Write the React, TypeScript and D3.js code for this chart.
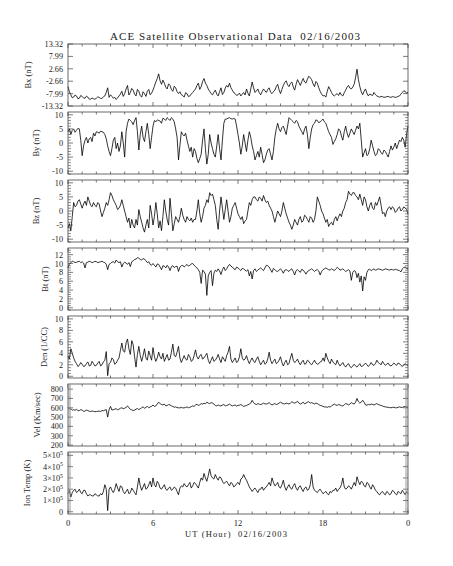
import React from "react";
import * as d3 from "d3";

// ACE multi-panel plot, 02/16/2003, samples every 0.1 h
const TITLE = "ACE Satellite Observational Data  02/16/2003";
const X_LABEL = "UT (Hour)  02/16/2003";
const X_TICKS = [0, 6, 12, 18, 24];
const X_TICK_LABELS = ["0", "6", "12", "18", "0"];
const STEP_H = 0.1;

const bxValues = [
  -5, -7.2, -8.5, -9.8, -9.5, -8.6, -9, -10.2, -10, -8.8, -9.2, -9.9, -10, -9.1, -9.5, -10.4, -10.3, -9.9, -10.2, -10.4,
  -10, -9.4, -9.6, -10.1, -10, -9.4, -9, -7.5, -5.5, -9.6, -8.5, -9.2, -10, -9.6, -10.5, -9.8, -9, -8.2, -7, -9.2,
  -8, -6, -4.5, -8.6, -7.5, -5.8, -6.5, -8.2, -9, -6.2, -7, -8.8, -9.5, -7.2, -8, -9.2, -7, -6.2, -8.5, -7.8,
  -6.5, -4.8, -3, -1.5, 0.5, -2.5, -4, -2.2, -3.5, -5.2, -6, -3.8, -4.5, -6.2, -7, -4.8, -5.5, -7.2, -8, -7.2,
  -8.5, -8.8, -9.5, -7.6, -8, -9.3, -9, -8.2, -7.5, -6.8, -6, -4.5, -3.5, -6.2, -5, -2.8, -1.5, -3.5, -4.5, -6,
  -7, -8, -8.5, -7.4, -6.5, -8.2, -9, -7.2, -5.5, -8.4, -7.5, -5.6, -4.5, -5.2, -3.5, -5.5, -6.5, -7.6, -8, -8.8,
  -8.5, -7.8, -9, -8.2, -7.5, -8.6, -6, -7.8, -9, -6, -3, -5.5, -7.5, -6.8, -6, -7.6, -8.5, -7.2, -6, -6.8,
  -7.5, -6.2, -5.5, -7.4, -8, -7.2, -6.5, -5, -4, -6.4, -8, -6.2, -4.5, -3.2, -2.5, -4.2, -5, -3.6, -3, -5.2,
  -6.5, -4, -2, -3.2, -4.5, -2.8, -1.5, -3, -3.5, -1.8, -0.5, -1.2, -2, -3.8, -5, -2.8, -3.5, -5.5, -7, -8.2,
  -9, -8.8, -9.5, -7, -5, -6.2, -7.5, -8.6, -9, -8.4, -8, -8.8, -7.5, -8.6, -9, -7.6, -6.5, -5.2, -4.5, -5.6,
  -6, -5.2, -4, -1, 2.5, -2, -5, -7.2, -8.5, -7, -6, -7.8, -9, -8.2, -8.5, -8.8, -7.5, -8.4, -9, -9.3,
  -9.5, -9.2, -9.3, -9.6, -9.5, -9.3, -9.2, -9.5, -9.6, -9.3, -9.4, -9.6, -9.5, -9.2, -9, -8.2, -7.5, -6.8, -7, -7.8,
  -7.5,
];

const byValues = [
  4, 5, 3, 4.5, 5, 3.8, 4.5, 5.2, 5, 1, -4.5, -1, 1, 2, 0, 1.5, 2, 0.5, 3.5, 2.5,
  4, 3.8, 3.5, 4.2, 4, 3.8, 3, 1.5, -1, -3, -4.5, -2, 1, 2, -2, 0, -3, -1, 4, 0,
  -5, 4, 7, 8.5, 8, 7.5, 6.5, 8, 9, 4, -2.5, 3, 6, 2, 0.5, 4, 7, 3, -2, 2,
  6, 8, 7.5, 8.2, 8, 7.8, 7, 8.8, 8.5, 8, 9, 8.5, 8, 9, 8.5, 7.5, 5, 2, -6, -1,
  4, 3, 2.5, 3.5, 1, -1, -3, -1.5, -5, -2, -3, -5.5, -7, -5.5, -4, 1, 5, -2, -7.5, -4,
  3, 0, -2, -4, -5, -1, 3, -2, -6, 1, 7, 8.5, 8.5, 8.8, 9, 8.6, 8.5, 8.7, 8.5, 6,
  3, 0, -4, -1, 3, 0, -3, 1, 4, 2, -1, -3, -6, -4.5, -3, -5, -1.5, -4, -7, -6,
  -4, -2.5, -2, -4, -6, -3, 2, 5, 7, 5, 4, 5.5, 6, 4.5, 3, 6, 9, 8.5, 8, 7.5,
  7, 8, 7.5, 6, 5, 4, 3, 5, 6, 3, -2, 2, 5, 6.5, 7, 8.2, 8, 7.2, 7.5, 8,
  8.5, 7.5, 7, 5.5, 4, 3, 2, -0.5, 0.5, 1.5, 3, 5, 4.5, 2.5, 1, 4, 6, 3.5, 2, 3.5,
  5, 4, 3, 4.5, 6, 5, 7, 1, -5, -3.5, -2, -4.5, -4, -2, 1, -1, -3, -4.5, -4, -2,
  -2.5, -3.5, -4, -2.5, -3, -4, -5, -3, -1, -2.5, -1.5, 0, -2, -0.5, 1, 0.5, 2, 1, -1.5, 3,
  6,
];

const bzValues = [
  -6, -4.5, -7, -2, 3, 1.5, 2, 3.5, 4, 2.5, 1, 2.5, 3.5, 2, 5, 3.5, 2, 1.5, 3, 2,
  1.5, 3, 2.5, 0, -2, -0.5, 1, 3, 2, 4, 6.5, 5.5, 4, 3, 2, 0.5, 1, 2, 4, 2,
  0, -2, -4, -2.5, -6, -3, -5, -6, -3, -5, 0.5, -2, -4, -6, -7.5, -5, -3, -6, 2, -1,
  -5, -2, 3, -1, -6, -3.5, -7, -2, 4, 0, -3, -5, 4.5, -1, -7, -4.5, -2, -3, -4, -2,
  1, -1.5, -3, -4, -2, -3, -3.5, -2.5, -4, -3, -3, 0, 4, -1, -4, -2, 1, 2, 4, 3,
  6.5, 5.5, 6, 4, 2, -3, -6.5, 0, 5, 1, -3, 0.5, 4, 0, -4, -2, 1, 2, 3, 1,
  -1, -2, -3, -2, -4.5, -3.5, -3, 0, 3, 2, 4, 5, 5, 4, 3.5, 5, 4.5, 3.5, 5.5, 4,
  3, 3.5, 2, 1, 0, -2, -4, -2, 0, -1, -2, 0, 3, 1, -1, -2.5, -4, -5, -6.5, -5,
  -3, -4, -5, -3, -2, -4, -3.5, -1.5, -2, -3, -4, -2, -2.5, -4, -3, 0, 5, 3.5, 2, 0,
  -1, -2.5, -4, -3, -5.5, -4.5, -4, -5, -3, -2, -3.5, -2, -1, -2, 0, 1, 3, 4, 7, 6,
  5.5, 6.5, 6.5, 5.5, 5, 4, 6, 4, 2, 5, 4, 1.5, 0, 2, 3, 1, 0.5, 3, 2, 3.5,
  5, 2, -1, -0.5, -2, 0, 1, 1.5, 0.5, 1.5, 1, -0.5, 0, 1, 1.5, 0, 0.5, 1.5, 1, 0.5,
  -1,
];

const btValues = [
  9, 10, 10.2, 10.5, 10.4, 10.2, 10.3, 10.4, 10.5, 10.2, 10.4, 10.1, 9, 10.2, 10.3, 10.5, 10.4, 10.2, 10.3, 10.5,
  10.4, 10.2, 10.3, 10.4, 10.5, 10.3, 10.2, 9.8, 8.6, 9.8, 10, 10.3, 10.4, 10.1, 10.8, 10.4, 10.2, 10.4, 9.2, 10,
  10.3, 10.1, 9.8, 10.2, 9.3, 10.4, 10.6, 10.9, 11, 11.3, 11.2, 10.9, 10.8, 11.1, 11, 10.6, 10.2, 10.4, 9.8, 9.6,
  10, 9.6, 9.2, 9.9, 9.8, 9.2, 8.6, 9.5, 9.4, 9, 9.6, 9.2, 8.4, 9.3, 9.5, 9.1, 9.3, 9.4, 8.2, 9.2,
  9.5, 9.6, 9.2, 9.5, 9.8, 9.4, 9.6, 9.9, 10, 9.6, 9.3, 9, 8.6, 8, 5.5, 8.5, 8.2, 7.6, 2.8, 7.2,
  8, 8.4, 5, 7.8, 8.5, 8.2, 8.8, 8.3, 7.5, 8.6, 9.2, 8.4, 8.8, 9.4, 9.8, 9.4, 9.2, 8.8, 8.6, 9.2,
  9, 8.7, 8.4, 8.9, 8.8, 8.5, 8.3, 8.6, 7.2, 8.2, 6.5, 8.4, 8.8, 8.2, 8.5, 8.8, 9, 8.7, 8.4, 9,
  9.6, 9.5, 9.2, 8.6, 8, 8.9, 8.6, 8.3, 8.2, 8.5, 8.8, 8.4, 7.8, 8.5, 8.6, 8.4, 8.2, 8.6, 8.8, 8.2,
  7.4, 8.4, 8.6, 8.3, 8, 8.7, 8.5, 8.1, 7.6, 8.2, 8.4, 8.6, 8.8, 8.5, 8.2, 8.5, 8.6, 8.3, 7.4, 8.2,
  8.6, 8.8, 9, 8.8, 8.6, 8.5, 8.8, 8.6, 8.4, 8.8, 9.1, 8.9, 8.5, 8.6, 8.8, 8.5, 8.2, 8.4, 8.6, 8.3,
  6.2, 8, 8.4, 8.2, 6.8, 7.8, 5.8, 7.2, 3.8, 7, 6.2, 8, 8.6, 8.7, 8.4, 8.6, 8.8, 8.5, 8.6, 8.8,
  8.7, 8.6, 8.5, 8.6, 8.8, 8.7, 8.6, 8.5, 8.7, 8.6, 8.5, 8.7, 8.6, 8.5, 8.4, 8.1, 8.8, 9.1, 9.2, 8.9,
  8.8,
];

const denValues = [
  3.5, 3.0, 4.8, 4.0, 3.2, 2.6, 2.2, 1.7, 1.9, 2.4, 2.1, 1.7, 1.8, 2.2, 2.5, 1.8, 1.9, 2.6, 2.2, 1.8,
  1.9, 2.3, 2.6, 1.8, 2.0, 2.5, 2.8, 4.3, 0.1, 2.2, 2.4, 3.2, 2.9, 2.1, 2.3, 2.8, 3.2, 4.5, 5.8, 4.4,
  4.2, 5.8, 6.5, 4.8, 3.8, 6.2, 5.5, 3.4, 1.6, 3.8, 5.2, 3.6, 2.6, 3.6, 4.8, 3.2, 2.8, 4.4, 3.6, 2.8,
  5.0, 3.4, 2.6, 3.2, 4.2, 3.4, 3.0, 4.0, 2.6, 3.2, 3.8, 2.8, 3.0, 4.2, 5.6, 3.6, 3.4, 4.2, 5.2, 3.2,
  2.4, 3.0, 3.6, 3.0, 2.8, 3.8, 3.4, 2.6, 2.8, 3.6, 4.6, 3.4, 3.0, 3.6, 3.8, 3.0, 3.2, 3.6, 4.0, 2.8,
  2.2, 2.8, 3.4, 2.6, 2.8, 3.2, 3.8, 3.0, 2.4, 3.4, 3.0, 2.6, 3.6, 4.2, 5.2, 3.0, 2.4, 2.8, 3.2, 2.4,
  2.6, 3.4, 4.8, 3.2, 2.8, 3.0, 3.6, 2.8, 2.2, 2.8, 3.2, 2.6, 2.4, 3.0, 3.4, 2.6, 2.0, 2.4, 2.8, 2.1,
  2.3, 3.0, 4.2, 2.8, 2.2, 2.6, 3.0, 2.2, 2.4, 2.8, 3.4, 2.4, 1.8, 2.4, 2.8, 2.0, 2.2, 3.2, 4.0, 2.8,
  2.4, 2.6, 3.0, 2.4, 2.0, 2.5, 2.8, 2.1, 2.2, 2.8, 2.6, 2.2, 2.0, 2.4, 2.8, 2.3, 2.1, 2.2, 2.5, 2.6,
  3.2, 2.6, 4.0, 3.2, 2.6, 2.2, 3.0, 2.5, 2.2, 2.0, 2.8, 2.2, 1.8, 2.1, 2.4, 1.9, 1.6, 2.0, 2.2, 1.7,
  1.5, 1.8, 2.1, 1.8, 1.6, 1.9, 2.2, 1.7, 1.8, 2.0, 2.3, 2.0, 1.7, 2.0, 2.4, 2.0, 1.9, 2.2, 2.8, 2.4,
  2.2, 2.0, 2.6, 2.2, 1.9, 2.1, 2.3, 1.9, 1.8, 2.0, 2.3, 2.1, 1.9, 2.3, 2.2, 1.9, 1.7, 2.0, 2.2, 2.0,
  1.9,
];

const velValues = [
  600, 585, 590, 575, 580, 572, 585, 568, 570, 580, 575, 562, 565, 575, 570, 563, 560, 566, 562, 558,
  560, 562, 565, 560, 570, 568, 575, 580, 500, 580, 615, 575, 580, 585, 590, 578, 585, 595, 600, 590,
  595, 605, 620, 600, 585, 578, 570, 575, 585, 592, 580, 590, 600, 610, 595, 605, 615, 600, 610, 615,
  630, 615, 620, 640, 660, 645, 635, 630, 640, 620, 625, 635, 630, 620, 615, 605, 610, 602, 600, 598,
  605, 598, 600, 602, 610, 600, 605, 612, 620, 615, 630, 638, 625, 632, 645, 640, 650, 642, 660, 650,
  645, 655, 650, 640, 625, 620, 630, 622, 620, 628, 635, 620, 625, 630, 640, 628, 620, 625, 630, 618,
  625, 628, 635, 625, 615, 620, 625, 632, 640, 650, 680, 655, 640, 635, 645, 638, 635, 640, 650, 642,
  640, 645, 655, 640, 630, 638, 645, 635, 640, 650, 660, 650, 645, 640, 650, 645, 640, 650, 665, 655,
  650, 658, 670, 650, 640, 648, 660, 642, 650, 660, 665, 650, 655, 648, 640, 650, 645, 635, 625, 622,
  615, 608, 610, 605, 612, 608, 620, 630, 640, 630, 625, 635, 630, 622, 620, 632, 645, 640, 630, 640,
  655, 645, 640, 660, 700, 665, 650, 660, 680, 660, 630, 628, 635, 632, 640, 636, 630, 638, 645, 635,
  630, 625, 620, 612, 610, 606, 605, 602, 600, 604, 605, 600, 600, 605, 610, 604, 605, 610, 615, 608,
  612,
];

// ion temperature in units of 10^5 K
const ionTempE5 = [
  1.6, 1.9, 1.3, 1.7, 1.9, 2.0, 1.7, 1.8, 2.0, 1.7, 1.6, 1.9, 1.9, 1.6, 1.4, 1.5, 1.5, 1.4, 1.4, 1.6,
  1.5, 1.4, 1.4, 1.6, 1.5, 1.8, 2.4, 2.0, 0.1, 2.0, 2.2, 1.9, 1.7, 2.0, 2.5, 2.1, 1.8, 2.3, 2.2, 1.8,
  1.6, 1.8, 2.0, 1.6, 1.7, 2.1, 1.9, 1.7, 1.5, 2.2, 3.0, 2.3, 1.9, 2.2, 2.5, 2.0, 2.1, 2.4, 2.7, 2.2,
  3.0, 2.4, 2.2, 2.7, 2.5, 2.1, 2.0, 2.2, 2.4, 2.0, 1.9, 2.1, 2.2, 1.9, 2.0, 2.2, 2.1, 1.8, 1.5, 2.1,
  2.3, 2.2, 2.5, 2.3, 2.2, 2.4, 2.6, 2.1, 2.3, 2.6, 2.5, 2.3, 2.1, 2.6, 3.0, 2.8, 3.4, 3.0, 2.7, 3.2,
  3.8, 3.2, 3.0, 2.9, 3.3, 3.0, 2.8, 3.1, 3.0, 2.7, 2.5, 2.6, 2.7, 2.5, 2.3, 2.6, 2.5, 2.2, 2.3, 2.5,
  2.6, 2.4, 2.9, 3.0, 3.3, 3.0, 2.8, 2.5, 2.2, 2.0, 1.8, 2.0, 2.1, 1.9, 1.7, 2.0, 2.0, 2.2, 1.9, 2.1,
  2.2, 2.4, 2.6, 2.3, 3.0, 2.6, 2.3, 2.4, 2.6, 2.2, 2.1, 2.4, 2.8, 2.2, 1.9, 2.2, 2.4, 2.1, 2.0, 2.3,
  2.5, 2.1, 1.9, 2.2, 2.3, 2.0, 1.8, 2.1, 2.2, 1.9, 2.0, 2.4, 3.3, 2.2, 1.9, 1.8, 1.7, 1.9, 2.0, 1.8,
  1.6, 1.7, 1.8, 1.6, 1.5, 1.8, 1.7, 1.9, 1.9, 2.1, 1.8, 2.0, 2.1, 2.4, 3.0, 2.2, 2.0, 2.1, 2.3, 2.2,
  2.0, 2.3, 2.6, 2.3, 3.1, 2.7, 2.4, 2.7, 2.6, 2.3, 2.2, 2.6, 2.5, 2.2, 2.0, 2.4, 2.2, 1.9, 1.8, 1.6,
  1.5, 1.7, 1.8, 1.6, 1.5, 1.8, 1.7, 1.5, 1.6, 1.9, 1.8, 1.6, 1.5, 1.8, 1.7, 1.6, 1.9, 1.7, 1.5, 1.8,
  1.6,
];

const W = 453;
const H = 566;
const LEFT = 68;
const RIGHT = 408;
const TOP0 = 44;
const PANEL_H = 62;
const PANEL_STEP = 68;
const FONT = "'Liberation Serif', 'DejaVu Serif', serif";

type Panel = {
  title: string;
  values: number[];
  domain: [number, number];
  ticks: number[];
  labels: string[];
  minor?: number;
  titleX: number;
  sup?: boolean;
};

const panels: Panel[] = [
  {
    title: "Bx (nT)",
    values: bxValues,
    domain: [-13.32, 13.32],
    ticks: [13.32, 7.99, 2.66, -2.66, -7.99, -13.32],
    labels: ["13.32", "7.99", "2.66", "-2.66", "-7.99", "-13.32"],
    titleX: 31,
  },
  {
    title: "By (nT)",
    values: byValues,
    domain: [-11, 11],
    ticks: [10, 5, 0, -5, -10],
    labels: ["10", "5", "0", "-5", "-10"],
    minor: 1,
    titleX: 39,
  },
  {
    title: "Bz (nT)",
    values: bzValues,
    domain: [-11, 11],
    ticks: [10, 5, 0, -5, -10],
    labels: ["10", "5", "0", "-5", "-10"],
    minor: 1,
    titleX: 39,
  },
  {
    title: "Bt (nT)",
    values: btValues,
    domain: [-0.5, 13.5],
    ticks: [12, 10, 8, 6, 4, 2, 0],
    labels: ["12", "10", "8", "6", "4", "2", "0"],
    minor: 0.5,
    titleX: 48,
  },
  {
    title: "Den (1/CC)",
    values: denValues,
    domain: [-0.3, 10.5],
    ticks: [10, 8, 6, 4, 2, 0],
    labels: ["10", "8", "6", "4", "2", "0"],
    minor: 0.5,
    titleX: 47,
  },
  {
    title: "Vel (Km/sec)",
    values: velValues,
    domain: [190, 855],
    ticks: [800, 700, 600, 500, 400, 300, 200],
    labels: ["800", "700", "600", "500", "400", "300", "200"],
    minor: 10,
    titleX: 40,
  },
  {
    title: "Ion Temp (K)",
    values: ionTempE5,
    domain: [-0.2, 5.3],
    ticks: [5, 4, 3, 2, 1, 0],
    labels: ["5", "4", "3", "2", "1", "0"],
    minor: 0.1,
    titleX: 30,
    sup: true,
  },
];

const x = d3.scaleLinear().domain([0, 24]).range([LEFT, RIGHT]);
const hourTicks = d3.range(0, 25, 1);

function PanelView({ p, idx }: { p: Panel; idx: number }) {
  const top = TOP0 + idx * PANEL_STEP;
  const bottom = top + PANEL_H;
  const y = d3.scaleLinear().domain(p.domain).range([bottom, top]);
  const line = d3
    .line<number>()
    .x((_, i) => x(i * STEP_H))
    .y((d) => y(d));

  const minorTicks = p.minor
    ? d3
        .range(Math.ceil(p.domain[0] / p.minor) * p.minor, p.domain[1], p.minor)
        .filter((v) => !p.ticks.some((t) => Math.abs(t - v) < p.minor! / 10))
    : [];
  const denseMinor = p.minor && Math.abs(y(0) - y(p.minor)) < 1.6;

  return (
    <g>
      <path d={line(p.values) ?? ""} fill="none" stroke="#000" strokeWidth={0.8} />
      <rect x={LEFT} y={top} width={RIGHT - LEFT} height={PANEL_H} fill="none" stroke="#444" strokeWidth={0.8} />
      {/* hour ticks, bottom and top */}
      {hourTicks.map((h) => {
        const len = h % 6 === 0 ? 4 : 2.5;
        return (
          <g key={h} stroke="#444" strokeWidth={0.7}>
            <line x1={x(h)} x2={x(h)} y1={bottom} y2={bottom - len} />
            <line x1={x(h)} x2={x(h)} y1={top} y2={top + len} />
          </g>
        );
      })}
      {minorTicks.map((v, i) => (
        <g key={"m" + i} stroke={denseMinor ? "#999" : "#444"} strokeWidth={0.6}>
          <line x1={LEFT} x2={LEFT + 3} y1={y(v)} y2={y(v)} />
          <line x1={RIGHT} x2={RIGHT - 3} y1={y(v)} y2={y(v)} />
        </g>
      ))}
      {p.ticks.map((v, i) => (
        <g key={"t" + i}>
          <line x1={LEFT} x2={LEFT + 5} y1={y(v)} y2={y(v)} stroke="#444" strokeWidth={0.7} />
          <line x1={RIGHT} x2={RIGHT - 5} y1={y(v)} y2={y(v)} stroke="#444" strokeWidth={0.7} />
          <text x={LEFT - 5} y={y(v) + 3} textAnchor="end" fontSize={8.2} fontFamily={FONT} fill="#222">
            {p.sup && p.labels[i] !== "0" ? (
              <>
                {p.labels[i]}×10
                <tspan fontSize={6} dy={-3.2}>5</tspan>
              </>
            ) : (
              p.labels[i]
            )}
          </text>
        </g>
      ))}
      <text
        transform={`translate(${p.titleX},${(top + bottom) / 2}) rotate(-90)`}
        textAnchor="middle"
        fontSize={8.5}
        fontFamily={FONT}
        fill="#222"
      >
        {p.title}
      </text>
    </g>
  );
}

export default function App() {
  const lastBottom = TOP0 + (panels.length - 1) * PANEL_STEP + PANEL_H;
  return (
    <svg width={W} height={H} style={{ position: "absolute", left: 0, top: 0, background: "#fff" }}>
      <text
        x={235}
        y={40}
        textAnchor="middle"
        fontSize={11}
        fontFamily={FONT}
        fill="#222"
        textLength={250}
        style={{ whiteSpace: "pre" }}
      >
        {TITLE}
      </text>
      {panels.map((p, i) => (
        <PanelView key={p.title} p={p} idx={i} />
      ))}
      {X_TICKS.map((h, i) => (
        <text key={h} x={x(h)} y={lastBottom + 12} textAnchor="middle" fontSize={8.5} fontFamily={FONT} fill="#222">
          {X_TICK_LABELS[i]}
        </text>
      ))}
      <text
        x={236}
        y={lastBottom + 23}
        textAnchor="middle"
        fontSize={8.5}
        fontFamily={FONT}
        fill="#222"
        textLength={102}
        style={{ whiteSpace: "pre" }}
      >
        {X_LABEL}
      </text>
    </svg>
  );
}
